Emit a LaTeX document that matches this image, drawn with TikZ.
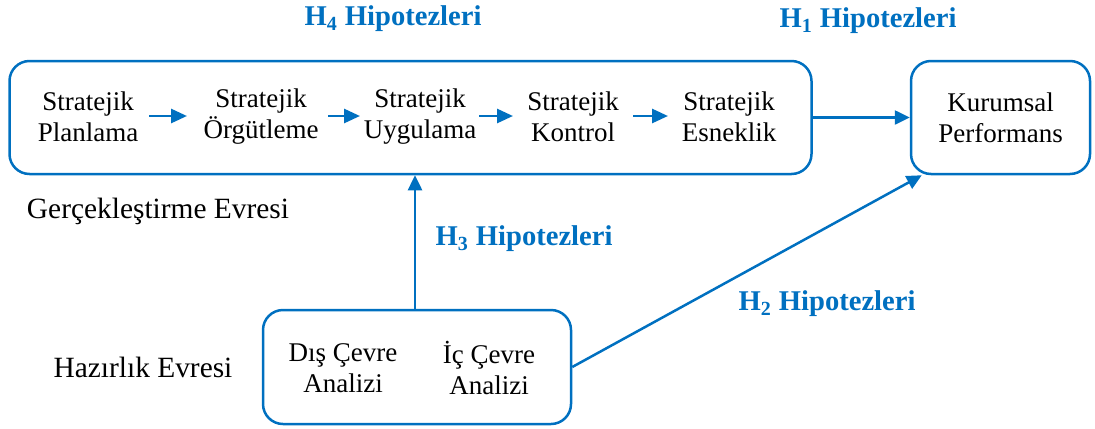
\documentclass[tikz,border=0pt]{standalone}
\usepackage{fontspec}
\setmainfont{Liberation Serif}
\usetikzlibrary{arrows.meta,calc}
\definecolor{hblue}{RGB}{0,112,192}
\begin{document}
\begin{tikzpicture}[x=0.5pt,y=-0.5pt,
  font=\fontsize{13.5}{15.5}\selectfont,
  box/.style={draw=hblue,line width=1.25pt,rounded corners=10pt,inner sep=0pt},
  txt/.style={align=center,inner sep=0pt,outer sep=0pt},
  phase/.style={inner sep=0pt,font=\fontsize{14.7}{16.5}\selectfont},
  flow/.style={draw=hblue,line width=1.4pt,-{Triangle[length=8pt,width=7pt]}},
  link/.style={draw=hblue,line width=1.25pt,-{Triangle[length=7.5pt,width=7pt]}},
  hyp/.style={text=hblue,font=\fontsize{14.3}{16}\selectfont\bfseries,inner sep=0pt}]
\useasboundingbox (0,0) rectangle (1095,428);

% main boxes
\node[box,minimum width=401pt,minimum height=56.5pt] (impl) at (410.5,117.5) {};
\node[box,minimum width=89.5pt,minimum height=56.5pt,align=center] (perf) at (1000.5,117.5) {Kurumsal\\Performans};
\node[box,minimum width=154pt,minimum height=57pt] (prep) at (417,367) {};

% stages of implementation
\node[txt] (s1) at (88,117) {Stratejik\\Planlama};
\node[txt] (s2) at (261,117) {Stratejik\\Örgütleme};
\node[txt] (s3) at (420,117) {Stratejik\\Uygulama};
\node[txt] (s4) at (573,117) {Stratejik\\Kontrol};
\node[txt] (s5) at (729,117) {Stratejik\\Esneklik};

\coordinate (a1s) at (149,116); \coordinate (a1e) at (187,116);
\coordinate (a2s) at (328,116); \coordinate (a2e) at (360,116);
\coordinate (a3s) at (479,116); \coordinate (a3e) at (513,116);
\coordinate (a4s) at (633,116); \coordinate (a4e) at (668,116);
\path[flow] (a1s) -- (a1e);
\path[flow] (a2s) -- (a2e);
\path[flow] (a3s) -- (a3e);
\path[flow] (a4s) -- (a4e);

% preparation stage
\node[txt] (d1) at (343,368) {Dış Çevre\\Analizi};
\node[txt] (d2) at (489,368) {İç Çevre\\Analizi};

% phase labels
\node[phase] (g) at (158,211) {Gerçekleştirme Evresi};
\node[phase] (h) at (143,367) {Hazırlık Evresi};

% hypothesis links
\path[link] (impl.east) -- (perf.west);
\coordinate (up) at ($(prep.north)+(-2,0)$);
\path[link] (up) -- (up |- impl.south);
\coordinate (pc) at ($(perf.south west)+(12,0)$);
\path[link] (prep.east) -- (pc);

\node[hyp] (h4) at (393,19) {H\textsubscript{4} Hipotezleri};
\node[hyp] (h1) at (868,21) {H\textsubscript{1} Hipotezleri};
\node[hyp] (h3) at (524,239) {H\textsubscript{3} Hipotezleri};
\node[hyp] (h2) at (827,304) {H\textsubscript{2} Hipotezleri};
\end{tikzpicture}
\end{document}
